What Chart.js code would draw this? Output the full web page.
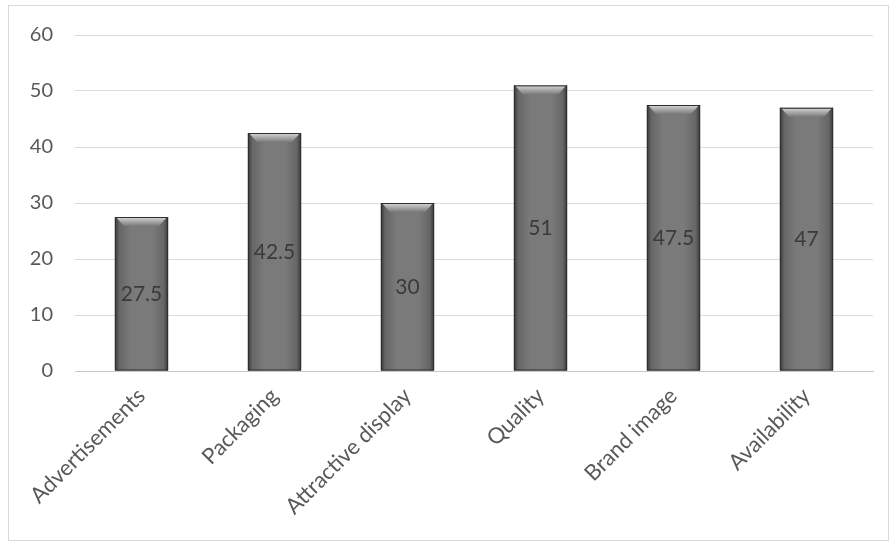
<!DOCTYPE html>
<html>
<head>
<meta charset="utf-8">
<script src="https://cdn.jsdelivr.net/npm/chart.js@4.4.1/dist/chart.umd.min.js"></script>
<style>
  html, body { margin: 0; padding: 0; background: #fff; }
  #wrap { width: 895px; height: 545px; }
</style>
</head>
<body>
<div id="wrap"><canvas id="myChart" width="895" height="545"></canvas></div>
<script>
const categories = ['Advertisements', 'Packaging', 'Attractive display', 'Quality', 'Brand image', 'Availability']
const scores = [27.5, 42.5, 30, 51, 47.5, 47]
const yTicks = [0, 10, 20, 30, 40, 50, 60]

const font = 'Lato, "Open Sans", sans-serif'

// shaded bars: dark edges, bevelled top cap, value in the middle
const barDecor = {
  id: 'barDecor',
  afterDatasetsDraw(chart) {
    const ctx = chart.ctx
    const meta = chart.getDatasetMeta(0)
    meta.data.forEach((bar, i) => {
      const l = bar.x - bar.width / 2
      const r = bar.x + bar.width / 2
      const t = bar.y
      const h = 9

      ctx.save()
      const side = ctx.createLinearGradient(l, 0, r, 0)
      side.addColorStop(0, '#363636')
      side.addColorStop(0.08, '#666666')
      side.addColorStop(0.3, '#7a7a7a')
      side.addColorStop(0.7, '#7a7a7a')
      side.addColorStop(0.92, '#666666')
      side.addColorStop(1, '#363636')
      ctx.fillStyle = side
      ctx.fillRect(l, t, r - l, bar.base - t)

      const cap = ctx.createLinearGradient(0, t, 0, t + h)
      cap.addColorStop(0, '#d8d8d8')
      cap.addColorStop(1, '#7a7a7a')
      ctx.fillStyle = cap
      ctx.beginPath()
      ctx.moveTo(l + 1, t)
      ctx.lineTo(r - 1, t)
      ctx.lineTo(r - h, t + h)
      ctx.lineTo(l + h, t + h)
      ctx.closePath()
      ctx.fill()

      ctx.strokeStyle = '#2e2e2e'
      ctx.lineWidth = 1
      ctx.strokeRect(l + 0.5, t + 0.5, r - l - 1, bar.base - t - 1)
      ctx.restore()

      ctx.save()
      ctx.font = '21px ' + font
      ctx.fillStyle = '#3a3a3a'
      ctx.textAlign = 'center'
      ctx.textBaseline = 'middle'
      ctx.fillText(String(scores[i]), bar.x, (bar.y + bar.base) / 2)
      ctx.restore()
    })
  },
  beforeDraw(chart) {
    const ctx = chart.ctx
    ctx.save()
    ctx.strokeStyle = '#d9d9d9'
    ctx.lineWidth = 1
    ctx.strokeRect(8.5, 5.5, 880, 535)
    ctx.restore()
  }
}

const ctx = document.getElementById('myChart')
const myChart = new Chart(ctx, {
  type: 'bar',
  data: {
    labels: categories,
    datasets: [{
      data: scores,
      backgroundColor: '#777777',
      borderWidth: 0,
      barPercentage: 0.4,
      categoryPercentage: 1
    }]
  },
  options: {
    responsive: false,
    animation: false,
    layout: {
      padding: { left: 10, right: 22, top: 35, bottom: 0 }
    },
    plugins: {
      legend: { display: false },
      tooltip: { enabled: false }
    },
    scales: {
      x: {
        grid: { display: false },
        border: { color: '#c8c8c8' },
        ticks: {
          color: '#595959',
          font: { family: font, size: 22 },
          minRotation: 45,
          maxRotation: 45,
          padding: 4
        },
        afterFit(scale) { scale.height = 174 }
      },
      y: {
        min: 0,
        max: 60,
        afterBuildTicks(scale) { scale.ticks = yTicks.map(v => ({ value: v })) },
        grid: { color: '#dcdcdc', drawTicks: false },
        border: { display: false },
        ticks: {
          color: '#595959',
          font: { family: font, size: 20 },
          padding: 22
        },
        afterFit(scale) { scale.width = 65 }
      }
    }
  },
  plugins: [barDecor]
})
</script>
</body>
</html>
